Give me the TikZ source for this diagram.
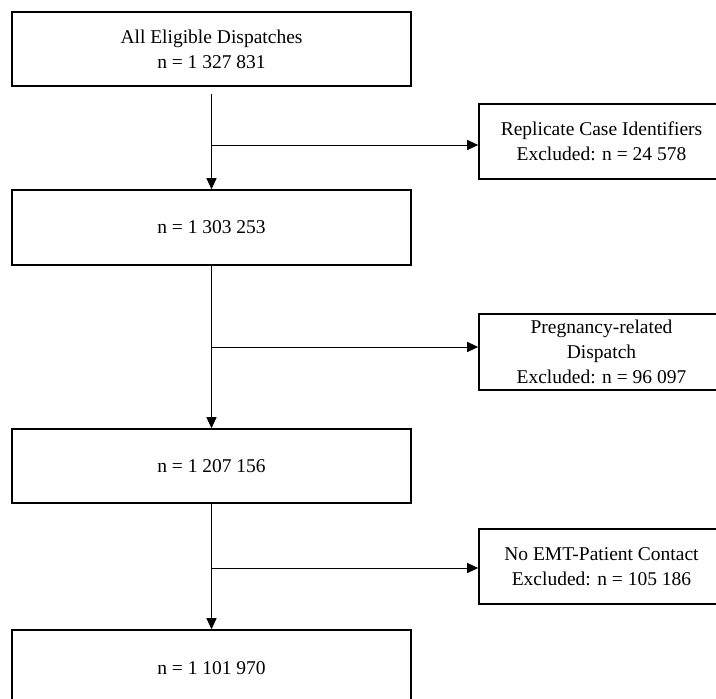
\documentclass[tikz,border=0pt]{standalone}
\usepackage{fontspec}
\setmainfont{Liberation Serif}
\usetikzlibrary{arrows.meta}
\begin{document}
\begin{tikzpicture}[x=1pt,y=-1pt,
  box/.style={draw,line width=1.6pt,align=center,inner sep=0pt,
    font=\fontsize{19.5}{25}\selectfont},
  mainbox/.style={box,minimum width=399pt},
  sidebox/.style={box,minimum width=245pt},
  conn/.style={line width=1pt,-{Triangle[length=11pt,width=10pt]}}]
\clip (0,0) rectangle (716,699);
\fill[white] (0,0) rectangle (716,699);
\node[mainbox,minimum height=74pt] (b1) at (211.5,49) {All Eligible Dispatches\\n = 1 327 831};
\node[mainbox,minimum height=75pt] (b2) at (211.5,227.5) {n = 1 303 253};
\node[mainbox,minimum height=74pt] (b3) at (211.5,466) {n = 1 207 156};
\node[mainbox,minimum height=76pt] (b4) at (211.5,668) {n = 1 101 970};
\node[sidebox,minimum height=75pt] (r1) at (601.5,141.5) {Replicate Case Identifiers\\Excluded: n = 24 578};
\node[sidebox,minimum height=76pt] (r2) at (601.5,352) {Pregnancy-related\\Dispatch\\Excluded: n = 96 097};
\node[sidebox,minimum height=75pt] (r3) at (601.5,566.5) {No EMT-Patient Contact\\Excluded: n = 105 186};
\coordinate (s1) at ([yshift=-7pt]b1.south);
\coordinate (j1) at (212,145);
\coordinate (j2) at (212,347);
\coordinate (j3) at (212,568);
\draw[conn] (s1) -- (b2.north);
\draw[conn] (b2.south) -- (b3.north);
\draw[conn] (b3.south) -- (b4.north);
\draw[conn] (j1) -- (j1 -| r1.west);
\draw[conn] (j2) -- (j2 -| r2.west);
\draw[conn] (j3) -- (j3 -| r3.west);
\end{tikzpicture}
\end{document}
